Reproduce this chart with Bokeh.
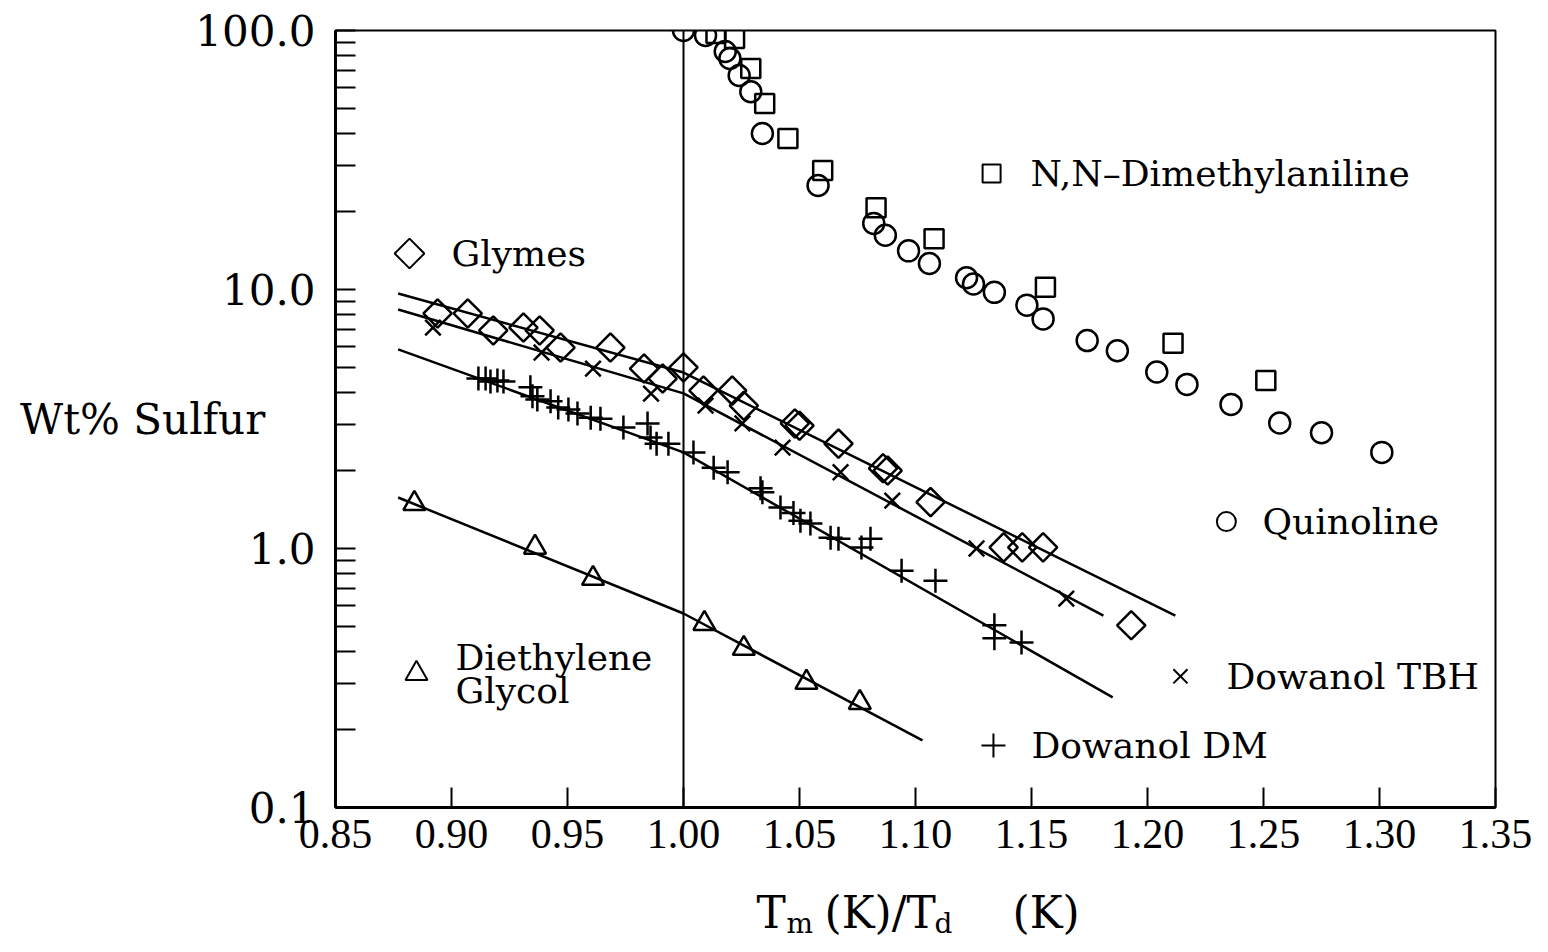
import numpy as np
from bokeh.plotting import figure
from bokeh.layouts import column
from bokeh.models import FixedTicker, CustomJSTickFormatter, Span, Range1d, LinearAxis
from bokeh.core.properties import value
from bokeh.embed import file_html
from bokeh.resources import INLINE

# ---------------- data ----------------
quin_x = [1.000, 1.0095, 1.018, 1.020, 1.024, 1.029, 1.034, 1.058, 1.082, 1.087, 1.097,
          1.106, 1.122, 1.125, 1.134, 1.148, 1.155, 1.174, 1.187, 1.204, 1.217, 1.236,
          1.257, 1.275, 1.301]
quin_y = [100, 95.6, 83, 78, 67, 58, 40, 25.2, 18.0, 16.2, 14.1, 12.6, 11.1, 10.5, 9.75,
          8.7, 7.7, 6.35, 5.8, 4.8, 4.3, 3.6, 3.05, 2.8, 2.35]

dma_x = [1.014, 1.022, 1.029, 1.035, 1.045, 1.060, 1.083, 1.108, 1.156, 1.211, 1.251]
dma_y = [97.4, 93.1, 71.3, 52.3, 38.3, 28.8, 20.7, 15.7, 10.2, 6.2, 4.45]

gly_x = [0.894, 0.907, 0.918, 0.931, 0.938, 0.947, 0.9685, 0.983, 0.991, 1.000, 1.0086,
         1.021, 1.026, 1.048, 1.050, 1.0668, 1.086, 1.088, 1.1065, 1.138, 1.146, 1.155, 1.193]
gly_y = [8.08, 8.08, 6.95, 7.13, 6.95, 5.97, 5.97, 4.95, 4.53, 5.0, 4.07, 4.07, 3.56, 3.04,
         2.98, 2.54, 2.04, 2.0, 1.51, 1.01, 1.01, 1.01, 0.505]

tbh_x = [0.892, 0.9388, 0.961, 0.986, 1.0095, 1.0254, 1.0427, 1.0677, 1.090, 1.1263, 1.165]
tbh_y = [7.13, 5.71, 4.95, 3.96, 3.56, 3.04, 2.45, 1.97, 1.53, 1.0, 0.64]

dm_x = [0.9116, 0.9147, 0.9168, 0.9198, 0.9224, 0.934, 0.9349, 0.937, 0.9427, 0.946, 0.9504,
        0.9543, 0.960, 0.9642, 0.9741, 0.9845, 0.9858, 0.9884, 0.9935, 1.0043, 1.013, 1.019,
        1.0332, 1.034, 1.0418, 1.0474, 1.0504, 1.0547, 1.0634, 1.0668, 1.0767, 1.0806, 1.094,
        1.1086, 1.134, 1.134, 1.1457]
dm_y = [4.53, 4.53, 4.41, 4.45, 4.41, 4.19, 3.87, 3.76, 3.70, 3.50, 3.44, 3.32, 3.20, 3.17,
        2.93, 3.04, 2.68, 2.54, 2.54, 2.35, 2.05, 1.97, 1.71, 1.65, 1.44, 1.37, 1.28, 1.25,
        1.10, 1.09, 1.01, 1.09, 0.82, 0.75, 0.505, 0.45, 0.434]

deg_x = [0.884, 0.936, 0.961, 1.009, 1.026, 1.053, 1.076]
deg_y = [1.49, 1.01, 0.766, 0.513, 0.411, 0.304, 0.254]

# fitted curves (two segments, break at Tm/Td = 1)
gly_fit_x = [0.877, 1.0, 1.212]
gly_fit_y = [9.65, 4.78, 0.551]
tbh_fit_x = [0.877, 1.0, 1.181]
tbh_fit_y = [8.37, 3.97, 0.551]
dm_fit_x = [0.877, 1.0, 1.185]
dm_fit_y = [5.87, 2.35, 0.266]
deg_fit_x = [0.877, 1.0, 1.103]
deg_fit_y = [1.574, 0.561, 0.1815]

x_ticks = [0.85, 0.90, 0.95, 1.00, 1.05, 1.10, 1.15, 1.20, 1.25, 1.30, 1.35]
y_ticks = [0.1, 1.0, 10.0, 100.0]

# ---------------- layout sizes ----------------
W, H = 1532, 944
HM = 872                               # height of the main plot
FL, FT, FR, FB = 335, 30, 1495, 807    # frame edges in canvas pixels
serif = "DejaVu Serif"

p = figure(width=W, height=HM, output_backend="svg", toolbar_location=None,
           y_axis_type="log", x_range=(0.85, 1.35), y_range=(0.1, 100),
           min_border_left=FL, min_border_right=W - FR, min_border_top=FT,
           min_border_bottom=HM - FB)
p.grid.visible = False
p.outline_line_color = "black"
p.outline_line_width = 2
p.background_fill_color = "white"
p.border_fill_color = "white"

p.xaxis.ticker = FixedTicker(ticks=x_ticks)
p.xaxis.formatter = CustomJSTickFormatter(code="return tick.toFixed(2)")
p.xaxis.axis_line_width = 3
p.xaxis.major_tick_in = 20
p.xaxis.major_tick_out = 0
p.xaxis.major_tick_line_width = 2
p.xaxis.minor_tick_line_color = None
p.xaxis.major_label_text_font = "Liberation Serif"
p.xaxis.major_label_text_font_size = "42px"
p.xaxis.major_label_text_color = "black"
p.xaxis.major_label_standoff = 12

minor = [m * d for d in (0.1, 1, 10) for m in range(2, 10)]
p.yaxis.ticker = FixedTicker(ticks=y_ticks, minor_ticks=minor)
p.yaxis.formatter = CustomJSTickFormatter(code="return tick.toFixed(1)")
p.yaxis.axis_line_width = 3
p.yaxis.major_tick_in = 20
p.yaxis.major_tick_out = 0
p.yaxis.minor_tick_in = 20
p.yaxis.minor_tick_out = 0
p.yaxis.major_tick_line_width = 2
p.yaxis.minor_tick_line_width = 2
p.yaxis.major_label_text_font = serif
p.yaxis.major_label_text_font_size = "42px"
p.yaxis.major_label_text_color = "black"
p.yaxis.major_label_standoff = 20

# y-axis title, written horizontally
p.yaxis.axis_label = "Wt% Sulfur"
p.yaxis.axis_label_text_font = serif
p.yaxis.axis_label_text_font_size = "42px"
p.yaxis.axis_label_text_font_style = "normal"
p.yaxis.axis_label_text_color = "black"
if "axis_label_orientation" in LinearAxis.properties():
    p.yaxis.axis_label_orientation = "horizontal"
    p.yaxis.axis_label_standoff = -73
else:
    p.yaxis.axis_label_standoff = 10

p.add_layout(Span(location=1.0, dimension="height", line_color="black", line_width=2))

lw = 2.5
for fx, fy in [(gly_fit_x, gly_fit_y), (tbh_fit_x, tbh_fit_y), (dm_fit_x, dm_fit_y),
               (deg_fit_x, deg_fit_y)]:
    p.line(fx, fy, line_color="black", line_width=lw)

p.scatter(quin_x, quin_y, marker="circle", size=21, fill_color=None,
          line_color="black", line_width=lw)
p.scatter(dma_x, dma_y, marker="square", size=19, fill_color=None,
          line_color="black", line_width=lw)
p.scatter(gly_x, gly_y, marker="square", angle=np.pi / 4, size=20, fill_color=None,
          line_color="black", line_width=lw)
p.scatter(tbh_x, tbh_y, marker="x", size=22, line_color="black", line_width=lw)
p.scatter(dm_x, dm_y, marker="cross", size=24, line_color="black", line_width=lw)
p.scatter(deg_x, deg_y, marker="triangle", size=22, fill_color=None,
          line_color="black", line_width=lw)

# ---------------- in-plot key labels ----------------
key_marker = ["square", "circle", "x", "cross", "triangle"]
key_mx = [1.1328, 1.234, 1.2142, 1.1336, 0.8849]
key_my = [28.05, 1.27, 0.321, 0.1736, 0.329]
key_size = [18, 19, 20, 24, 22]
for m, x, y, s in zip(key_marker, key_mx, key_my, key_size):
    p.scatter([x], [y], marker=m, size=s, fill_color=None, line_color="black", line_width=2)
p.scatter([0.8819], [13.77], marker="square", angle=np.pi / 4, size=21, fill_color=None,
          line_color="black", line_width=2)

key_text = ["Glymes", "N,N–Dimethylaniline", "Quinoline", "Dowanol  TBH", "Dowanol  DM",
            "Diethylene", "Glycol"]
key_tx = [0.9, 1.1496, 1.2496, 1.234, 1.15, 0.9017, 0.9017]
key_ty = [13.77, 28.05, 1.27, 0.321, 0.1736, 0.3795, 0.283]
p.text(key_tx, key_ty, text=key_text, text_font=value(serif), text_font_size="36px",
       text_align="left", text_baseline="middle", text_color="black")

# ---------------- x-axis title strip (with subscripts) ----------------
# the strip's frame is aligned with the main frame, so its x range is the canvas span FL..FR
HT = H - HM
t = figure(width=W, height=HT, output_backend="svg", toolbar_location=None,
           x_range=Range1d(FL, FR), y_range=Range1d(H, HM),
           x_axis_location=None, y_axis_location=None, min_border=0)
t.grid.visible = False
t.outline_line_color = None
t.background_fill_color = "white"
t.border_fill_color = "white"

title_text = ["T", "m", "(K)/T", "d", "(K)"]
title_x = [756, 786, 824, 934, 1012]
title_y = [912, 923, 912, 923, 912]
title_fs = ["44px", "28px", "44px", "28px", "44px"]
t.text(title_x, title_y, text=title_text, text_font=value(serif),
       text_font_size=title_fs, text_align="left", text_baseline="middle",
       text_color="black")

open("out.html", "w").write(file_html(column(p, t, spacing=0), INLINE))
